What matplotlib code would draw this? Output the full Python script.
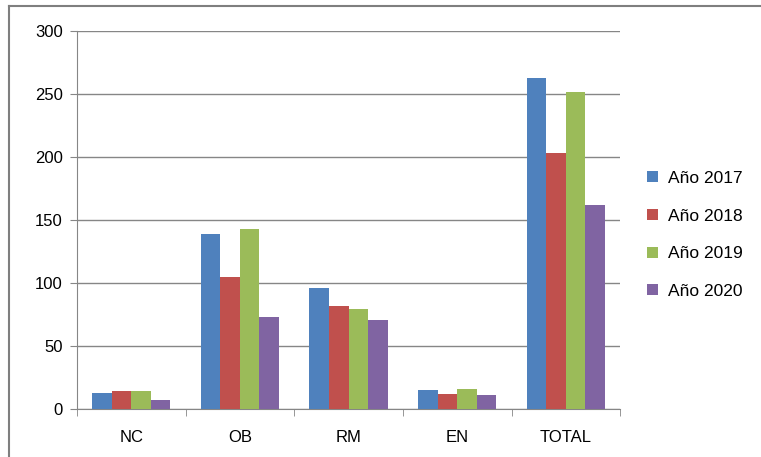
import numpy as np
import matplotlib
matplotlib.use("Agg")
import matplotlib.pyplot as plt
from matplotlib.lines import Line2D

categories = ["NC", "OB", "RM", "EN", "TOTAL"]
series_names = ["Año 2017", "Año 2018", "Año 2019", "Año 2020"]
v2017 = [13, 139, 96, 15, 263]
v2018 = [14, 105, 82, 12, 203]
v2019 = [14, 143, 79, 16, 252]
v2020 = [7, 73, 71, 11, 162]
y_ticks = [0, 50, 100, 150, 200, 250, 300]

colors = ["#4F81BD", "#C0504D", "#9BBB59", "#8064A2"]

plt.rcParams['font.family'] = ['Liberation Sans', 'DejaVu Sans']

fig = plt.figure(figsize=(7.61, 4.57), dpi=100)
ax = fig.add_axes([0.101, 0.105, 0.714, 0.827])

x = np.arange(len(categories))
bw = 0.18
for i, (vals, name, c) in enumerate(zip([v2017, v2018, v2019, v2020], series_names, colors)):
    ax.bar(x + (i - 1.5) * bw, vals, bw, color=c, label=name, zorder=3)

ax.set_xlim(-0.5, len(categories) - 0.5)
ax.set_ylim(0, 300)
ax.set_yticks(y_ticks)
ax.set_xticks(x)
ax.set_xticklabels(categories)
ax.set_xticks(np.arange(len(categories) + 1) - 0.5, minor=True)
ax.tick_params(axis='x', which='major', length=0, labelsize=12, pad=15)
ax.tick_params(axis='x', which='minor', length=5, color='#868686', direction='out')
ax.tick_params(axis='y', length=5, color='#868686', labelsize=12, pad=5)
ax.yaxis.grid(True, color='#868686', linewidth=1, zorder=0)
for s in ['top', 'right']:
    ax.spines[s].set_visible(False)
for s in ['left', 'bottom']:
    ax.spines[s].set_color('#868686')

ax.legend(loc='center left', bbox_to_anchor=(0.83, 0.486), bbox_transform=fig.transFigure,
          frameon=False, fontsize=12.5, handlelength=0.6, handleheight=0.6,
          handletextpad=0.6, labelspacing=1.3)

# outer chart frame
fig.add_artist(Line2D([0.012, 0.012], [0, 0.986], color='#7f7f7f', linewidth=1.5, transform=fig.transFigure))
fig.add_artist(Line2D([0.012, 1.0], [0.986, 0.986], color='#7f7f7f', linewidth=1.5, transform=fig.transFigure))

fig.savefig("out.png", dpi=100)
